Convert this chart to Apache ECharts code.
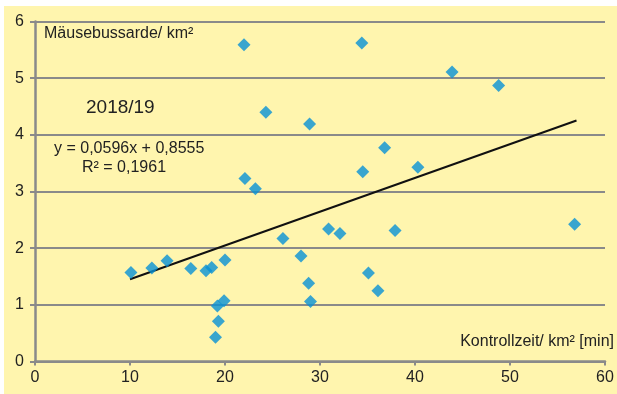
<!DOCTYPE html>
<html>
<head>
<meta charset="utf-8">
<script src="https://cdn.jsdelivr.net/npm/echarts@6/dist/echarts.min.js"></script>
<style>
  html, body { margin: 0; padding: 0; background: #ffffff; }
  #chart { position: absolute; left: 4px; top: 6px; width: 613px; height: 388px; }
</style>
</head>
<body>
<div id="chart"></div>
<script>
// Kontrollzeit je km² (min) and Mäusebussarde je km², season 2018/19
const kontrollzeit = [10.1, 12.3, 13.9, 16.4, 18.0, 18.6, 20.0, 19.2, 19.9, 19.3, 19.0,
                      22.0, 22.1, 23.2, 24.3, 26.1, 28.0, 28.8, 29.0, 28.9, 30.9, 32.1,
                      34.4, 34.5, 35.1, 36.1, 36.8, 37.9, 40.3, 43.9, 48.8, 56.8];
const bussarde     = [1.57, 1.65, 1.78, 1.64, 1.60, 1.66, 1.79, 0.98, 1.07, 0.71, 0.43,
                      5.59, 3.23, 3.05, 4.40, 2.17, 1.86, 1.38, 1.06, 4.19, 2.34, 2.26,
                      5.62, 3.35, 1.56, 1.25, 3.77, 2.31, 3.43, 5.11, 4.87, 2.42];

// Linear trend as stated in the equation label
const slope = 0.0596;
const intercept = 0.8555;
const rSquared = 0.1961;
const trendRange = [10, 57];

const xTicks = { min: 0, max: 60, interval: 10 };
const yTicks = { min: 0, max: 6, interval: 1 };

const points = kontrollzeit.map((x, i) => [x, bussarde[i]]);
const trend = trendRange.map(x => [x, slope * x + intercept]);
const fmt = v => v.toFixed(4).replace('.', ',');

const textColor = '#222222';
const font = '"Liberation Sans", Arial, sans-serif';

const chart = echarts.init(document.getElementById('chart'), null, { renderer: 'canvas' });
chart.setOption({
  animation: false,
  backgroundColor: '#fff5ae',
  grid: { left: 31, top: 15.5, right: 12, bottom: 32.5, containLabel: false },
  xAxis: {
    type: 'value', min: xTicks.min, max: xTicks.max, interval: xTicks.interval,
    axisLine: { show: true, lineStyle: { color: '#8a8a8a', width: 2.5 } },
    axisTick: { show: true, length: 4, lineStyle: { color: '#8a8a8a', width: 2 } },
    axisLabel: { color: textColor, fontSize: 16, fontFamily: font, margin: 8 },
    splitLine: { show: false }
  },
  yAxis: {
    type: 'value', min: yTicks.min, max: yTicks.max, interval: yTicks.interval,
    axisLine: { show: true, lineStyle: { color: '#8a8a8a', width: 2.5 } },
    axisTick: { show: true, length: 5, lineStyle: { color: '#8a8a8a', width: 2 } },
    axisLabel: { color: textColor, fontSize: 16, fontFamily: font, margin: 11 },
    splitLine: { show: true, lineStyle: { color: '#8a8a8a', width: 2 } }
  },
  series: [
    {
      type: 'line',
      data: trend,
      symbol: 'none',
      lineStyle: { color: '#111111', width: 2 },
      z: 2
    },
    {
      type: 'scatter',
      data: points,
      symbol: 'diamond',
      symbolSize: [13, 13],
      itemStyle: { color: '#0891d6' },
      z: 3
    }
  ],
  graphic: [
    { type: 'text', left: 40, top: 20, style: { text: 'Mäusebussarde/ km²', fill: textColor, font: '16px ' + font } },
    { type: 'text', left: 82, top: 92, style: { text: '2018/19', fill: textColor, font: '19px ' + font } },
    { type: 'text', left: 50, top: 135, style: { text: 'y = ' + fmt(slope) + 'x + ' + fmt(intercept), fill: textColor, font: '16px ' + font } },
    { type: 'text', left: 78, top: 154, style: { text: 'R² = ' + fmt(rSquared), fill: textColor, font: '16px ' + font } },
    { type: 'text', right: 3, top: 328, style: { text: 'Kontrollzeit/ km² [min]', fill: textColor, font: '16px ' + font } }
  ]
});
</script>
</body>
</html>
